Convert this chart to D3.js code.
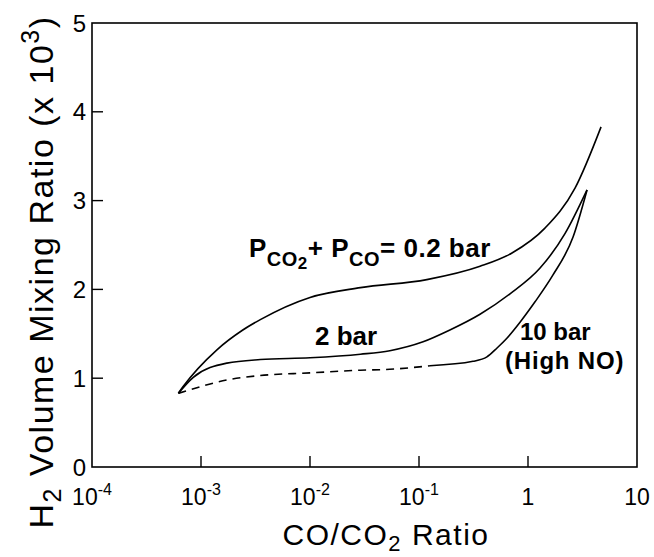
<!DOCTYPE html>
<html>
<head>
<meta charset="utf-8">
<script src="https://cdn.jsdelivr.net/npm/d3@7"></script>
<style>
  html, body { margin: 0; padding: 0; background: #fff; }
  svg { display: block; font-family: "Liberation Sans", Arial, Helvetica, sans-serif; }
</style>
</head>
<body>
<svg id="chart" width="654" height="557"></svg>
<script>
// CO/CO2 ratio (x) and H2 volume mixing ratio in units of 10^-3 (y)
const lowP_x = [6.2e-4, 6.8e-4, 1.4e-3, 2.4e-3, 3.5e-3, 0.01, 0.029, 0.118, 0.363, 0.713, 1.43, 2.7, 4.68];
const lowP_y = [0.83, 0.90, 1.32, 1.54, 1.66, 1.91, 2.02, 2.11, 2.26, 2.41, 2.69, 3.14, 3.83];

const midP_x = [6.2e-4, 8.5e-4, 1.73e-3, 3.5e-3, 0.01, 0.029, 0.054, 0.109, 0.19, 0.363, 0.684, 1.29, 2.19, 3.48];
const midP_y = [0.83, 1.01, 1.17, 1.21, 1.23, 1.27, 1.31, 1.41, 1.54, 1.72, 1.95, 2.24, 2.63, 3.12];

// 10 bar: dashed at low CO/CO2, solid beyond ~0.13
const highPDash_x = [6.2e-4, 7.9e-4, 1.73e-3, 3.5e-3, 0.01, 0.029, 0.054, 0.126];
const highPDash_y = [0.83, 0.87, 0.98, 1.03, 1.06, 1.09, 1.10, 1.14];
const highPSolid_x = [0.126, 0.313, 0.42, 0.52, 0.64, 0.845, 1.16, 1.69, 2.59, 3.48];
const highPSolid_y = [1.14, 1.19, 1.24, 1.34, 1.45, 1.63, 1.86, 2.16, 2.59, 3.12];

const xTicks = [1e-4, 1e-3, 1e-2, 1e-1, 1, 10];
const xTickBase = ["10", "10", "10", "10", "1", "10"];
const xTickExp = ["-4", "-3", "-2", "-1", "", ""];
const yTicks = [0, 1, 2, 3, 4, 5];

const svg = d3.select("#chart");
const m = { left: 92, top: 23, right: 17, bottom: 90 };
const W = 654 - m.left - m.right;
const H = 557 - m.top - m.bottom;

const x = d3.scaleLog().domain([1e-4, 10]).range([0, W]);
const y = d3.scaleLinear().domain([0, 5]).range([H, 0]);

const g = svg.append("g").attr("transform", `translate(${m.left},${m.top})`);

// frame
g.append("rect").attr("x", 0).attr("y", 0).attr("width", W).attr("height", H)
  .attr("fill", "none").attr("stroke", "#000").attr("stroke-width", 1.6);

// inward ticks
const tickLen = 11;
g.selectAll(".yt").data(yTicks.slice(1, -1)).enter().append("line")
  .attr("x1", 0).attr("x2", tickLen)
  .attr("y1", d => y(d)).attr("y2", d => y(d))
  .attr("stroke", "#000").attr("stroke-width", 1.4);
g.selectAll(".xt").data(xTicks.slice(1, -1)).enter().append("line")
  .attr("x1", d => x(d)).attr("x2", d => x(d))
  .attr("y1", H).attr("y2", H - tickLen)
  .attr("stroke", "#000").attr("stroke-width", 1.4);

// y tick labels
g.selectAll(".yl").data(yTicks).enter().append("text")
  .attr("x", -6).attr("y", d => y(d) + 8.5)
  .attr("text-anchor", "end").attr("font-size", 24)
  .text(d => d);

// x tick labels with exponents
xTicks.forEach((v, i) => {
  const t = g.append("text")
    .attr("x", x(v)).attr("y", H + 38)
    .attr("text-anchor", "middle").attr("font-size", 23);
  t.append("tspan").text(xTickBase[i]);
  if (xTickExp[i]) {
    t.append("tspan").attr("dy", -10).attr("font-size", 16).text(xTickExp[i]);
  }
});

// axis titles
const xt = svg.append("text")
  .attr("x", 386).attr("y", 545)
  .attr("text-anchor", "middle").attr("font-size", 30)
  .attr("letter-spacing", 1.5);
xt.append("tspan").text("CO/CO");
xt.append("tspan").attr("dy", 6).attr("font-size", 22).text("2");
xt.append("tspan").attr("dy", -6).text(" Ratio");

const yt = svg.append("text")
  .attr("transform", "translate(53,272) rotate(-90)")
  .attr("text-anchor", "middle").attr("font-size", 34)
  .attr("letter-spacing", 1.5);
yt.append("tspan").text("H");
yt.append("tspan").attr("dy", 8).attr("font-size", 25).text("2");
yt.append("tspan").attr("dy", -8).text(" Volume Mixing Ratio (x 10");
yt.append("tspan").attr("dy", -14).attr("font-size", 25).text("3");
yt.append("tspan").attr("dy", 14).text(")");

// curves
const line = d3.line().x(d => x(d[0])).y(d => y(d[1])).curve(d3.curveMonotoneX);
const zip = (a, b) => a.map((v, i) => [v, b[i]]);

g.append("path").datum(zip(lowP_x, lowP_y)).attr("d", line)
  .attr("fill", "none").attr("stroke", "#000").attr("stroke-width", 1.6);
g.append("path").datum(zip(midP_x, midP_y)).attr("d", line)
  .attr("fill", "none").attr("stroke", "#000").attr("stroke-width", 1.6);
g.append("path").datum(zip(highPDash_x, highPDash_y)).attr("d", line)
  .attr("fill", "none").attr("stroke", "#000").attr("stroke-width", 1.6)
  .attr("stroke-dasharray", "8,6");
g.append("path").datum(zip(highPSolid_x, highPSolid_y)).attr("d", line)
  .attr("fill", "none").attr("stroke", "#000").attr("stroke-width", 1.6);

// curve labels
const lab = svg.append("g").attr("font-weight", "bold").attr("font-size", 26);
const l1 = lab.append("text").attr("x", 249).attr("y", 257).attr("letter-spacing", 0.5);
l1.append("tspan").text("P");
l1.append("tspan").attr("dy", 9).attr("font-size", 20).text("CO");
l1.append("tspan").attr("dy", 3).attr("font-size", 17).text("2");
l1.append("tspan").attr("dy", -12).text("+ P");
l1.append("tspan").attr("dy", 9).attr("font-size", 20).text("CO");
l1.append("tspan").attr("dy", -9).text("= 0.2 bar");

lab.append("text").attr("x", 315).attr("y", 345).text("2 bar");
lab.append("text").attr("x", 520).attr("y", 340).attr("font-size", 24).text("10 bar");
lab.append("text").attr("x", 505).attr("y", 369).attr("font-size", 24)
  .attr("letter-spacing", 0.8).text("(High NO)");
</script>
</body>
</html>
